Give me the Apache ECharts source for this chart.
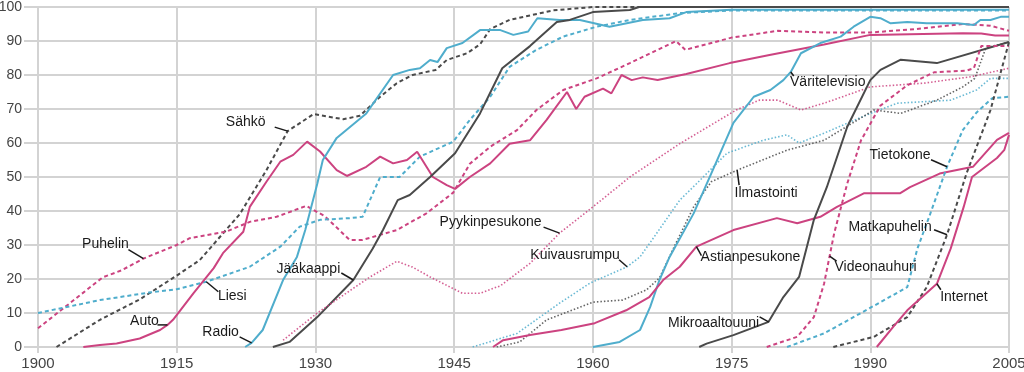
<!DOCTYPE html>
<html><head><meta charset="utf-8">
<script src="https://cdn.jsdelivr.net/npm/echarts@6/dist/echarts.min.js"></script>
<style>html,body{margin:0;padding:0;background:#fff}#c{width:1024px;height:372px}</style>
</head><body><div id="c"></div>
<script>
// [year, percent of households]
const sahko = [[1902,0],[1906.7,8],[1911,14],[1915,21],[1917.5,25.6],[1921.8,39],[1924.7,52],[1927,63.5],[1929.8,68.5],[1933,67],[1934.8,68],[1937,73.6],[1938.8,77.6],[1940.5,80],[1943,81.5],[1944.2,84.4],[1946.4,86.4],[1947.8,89],[1948.9,93.5],[1951,96.2],[1955.7,99],[1960,100],[2005,100]];
const puhelin = [[1900,5.5],[1903.5,13],[1907,20.5],[1909,22.5],[1911.4,26],[1915,30],[1916.4,32],[1920.4,34],[1922.9,36.8],[1925.8,38.3],[1929,41.5],[1931,38.5],[1933.7,31.5],[1935.1,31.5],[1938.8,34.4],[1942,39.3],[1944.9,45.4],[1946.7,53.9],[1948.9,58.9],[1951.8,63.8],[1953.9,69.7],[1956.8,75.6],[1960.4,79],[1964,83.5],[1969,90],[1970,87.4],[1975,91],[1980,93],[1985,92.5],[1990,92.5],[1995,93.5],[2000,95],[2003,94.5],[2005,93]];
const liesi = [[1900,10],[1906.7,13.8],[1912,16],[1915,17],[1918.2,19.2],[1922.9,23.6],[1926.2,29.5],[1928.3,35.4],[1930.5,37.4],[1933.7,37.9],[1935.1,38.3],[1937,50],[1939.1,50],[1941.3,56],[1944.9,60.4],[1946.7,66.8],[1948.9,73.6],[1951,82.4],[1953.9,87.4],[1956.8,91.3],[1960.4,94.2],[1964,96.2],[1969.4,98.2],[1975,99],[2005,99]];
const auto = [[1904.9,0],[1906.7,0.6],[1908.5,1],[1911,2.5],[1913.2,5],[1914,6.5],[1914.6,8],[1916.8,15.8],[1919,23.2],[1920,27.6],[1922.2,33.9],[1922.9,41.2],[1924.7,48.6],[1926.2,54.5],[1927.6,56.5],[1929.1,60.4],[1930.5,57.5],[1932.3,52],[1933.4,50.3],[1935.5,53],[1937,56],[1938.4,54],[1939.9,55],[1941,57.4],[1942.7,50],[1944.2,47.6],[1945.1,46.5],[1946.7,50],[1948.9,54],[1951,59.8],[1953.2,60.8],[1955,66.8],[1957.2,75],[1958.2,70],[1959.1,73.6],[1961.1,76],[1962,74.6],[1963.1,80],[1964.2,78.5],[1965.4,79.3],[1967,78.5],[1970.1,80.3],[1974.8,83.5],[1979.1,85.9],[1985,89],[1990,91.8],[2000,92.3],[2002,92.2],[2003.5,91.6],[2005,91.6]];
const radio = [[1922.4,0],[1923.1,1.2],[1924.3,5],[1926.5,19.7],[1928,26.5],[1928.9,34.4],[1930.2,48],[1930.8,55],[1932.3,61.5],[1935.5,68.7],[1938.4,80],[1940.2,81.5],[1941.3,82],[1942.4,84.4],[1943.2,83.8],[1944.2,87.9],[1945.9,89.4],[1947.8,93.2],[1950,93.2],[1951.4,91.8],[1953,92.8],[1954,96.7],[1956.4,96.2],[1958.6,96.2],[1961.8,94.2],[1965.4,96.2],[1968.3,96.7],[1970.1,98.5],[1975,99.2],[2005,99.2]];
const jaakaappi = [[1925.4,0],[1927.2,1.5],[1930.2,8.8],[1934.1,19.7],[1936.2,29],[1937.3,34.4],[1938.9,43.2],[1940.2,44.7],[1942.4,50],[1945.1,57],[1947.8,68.7],[1950.2,82],[1953.2,88.5],[1956.1,95.6],[1957.5,96.2],[1960,98.5],[1964,99.1],[1965,100],[2005,100]];
const pyykinpesukone = [[1926.5,2],[1930.2,10],[1935.9,20.6],[1938.8,25.2],[1940.5,23.5],[1942.4,20.6],[1945.9,15.8],[1947.8,15.8],[1950,18],[1953.2,24.6],[1956.4,33.5],[1960,41.2],[1964,50],[1969.4,59.8],[1975.5,69.7],[1978,72.6],[1980,72.6],[1982.5,69.7],[1985,71.7],[1990,76.5],[1995.8,77.6],[2000.9,79.5],[2005,82]];
const kuivausrumpu = [[1947,0],[1951.8,4],[1956.4,12.9],[1959.7,18.8],[1963.7,23.6],[1965.1,26.5],[1966.4,31.5],[1969.4,43.2],[1971.2,48],[1974.5,57],[1978.4,60.8],[1981,62.4],[1982.3,60],[1985,62.9],[1990,68.7],[1992.9,71.7],[1998.7,72.6],[2001.5,75.6],[2003,79],[2005,79]];
const ilmastointi = [[1949.6,0],[1952.1,1.5],[1955,8],[1960,13.2],[1963.2,13.8],[1965.8,16.8],[1967.2,20.3],[1968.8,29.5],[1970.9,41.2],[1972.8,48.6],[1975.6,52],[1981,57.9],[1985,60.8],[1990.4,69.7],[1993.3,68.7],[1997.2,72.6],[2000,76.5],[2001.3,79],[2002.5,88],[2005,89.7]];
const varitelevisio = [[1960,0],[1962.9,1.5],[1965.1,5],[1966.2,11.8],[1967.2,19.7],[1968.3,26.5],[1970.9,39.3],[1972.8,51],[1975.2,65.9],[1977.4,73.6],[1979.2,75.6],[1980.6,78.5],[1981.4,80.9],[1982.5,86.4],[1984.6,89.4],[1986.8,91.3],[1988.2,94.2],[1990,97.1],[1991.1,96.7],[1992.2,95.2],[1994,95.6],[1996.1,95.2],[1999.4,95.2],[2001.2,94.7],[2001.9,96.2],[2003,96.2],[2004.1,97.1],[2005,97.1]];
const astianpesukone = [[1949.2,0],[1950.3,2],[1953.2,3.5],[1956.6,5],[1960.2,7],[1963.6,10.8],[1966.1,14.7],[1967.6,19.7],[1969.4,23.6],[1971.2,29.5],[1975.2,34.4],[1979.9,37.9],[1982.1,36.4],[1984.6,38.3],[1986.4,41.2],[1989.3,45.2],[1993.2,45.2],[1994.3,47],[1997.5,51],[2001.1,53],[2003.7,60.9],[2005,63]];
const mikroaaltouuni = [[1971.5,0],[1972.3,1],[1975.2,3.5],[1979,7.4],[1980.6,14.7],[1982.3,20.6],[1983.9,37.4],[1985.3,47],[1987.5,64.7],[1990,78.5],[1991.1,81.5],[1993.3,84.5],[1997.2,83.5],[2005,89.7]];
const videonauhuri = [[1978.8,0],[1982.1,3],[1983.9,8.8],[1985,18.6],[1985.6,26.7],[1986.1,33.5],[1987.5,48],[1989,60.8],[1991.1,71],[1994,77],[1996.9,80.8],[2000.4,81.3],[2001.2,82],[2002,88.5],[2005,88.5]];
const tietokone = [[1981,0],[1985,4],[1989,10],[1994,17.6],[1995.1,29],[1996.5,39.3],[1998.3,53],[2000,63.8],[2001.5,69],[2003.2,73.2],[2005,73.6]];
const matkapuhelin = [[1986,0],[1990.4,3],[1994,8.8],[1996.1,17.6],[1998.3,33],[2000.4,51],[2002.6,66.8],[2003,69.7],[2005,89.7]];
const internet = [[1990.7,0],[1992.5,6],[1994,10.8],[1997.2,18.6],[1998.7,29],[2000.1,41.2],[2001,50],[2003.7,55.6],[2004.5,58],[2005,62.4]];

const yearTicks = [1900, 1915, 1930, 1945, 1960, 1975, 1990, 2005];
const yTicks = [0,10,20,30,40,50,60,70,80,90,100];

const BASE = 1900;
const PINK = '#cc4380', BLUE = '#4fadcc', DARK = '#4a4a4a';
const SOLID = 'solid', DASH = [4,3], DOT = [1.5,2];
const FONT = 'Liberation Sans, Arial, sans-serif';

// name, data, colour, line type, year of the point the label points to
const seriesDefs = [
  ['Sähkö', sahko, DARK, DASH, 1927],
  ['Puhelin', puhelin, PINK, DASH, 1911.4],
  ['Liesi', liesi, BLUE, DASH, 1918.2],
  ['Auto', auto, PINK, SOLID, 1914],
  ['Radio', radio, BLUE, SOLID, 1923.1],
  ['Jääkaappi', jaakaappi, DARK, SOLID, 1934.1],
  ['Pyykinpesukone', pyykinpesukone, PINK, DOT, 1956.4],
  ['Kuivausrumpu', kuivausrumpu, BLUE, DOT, 1963.7],
  ['Ilmastointi', ilmastointi, DARK, DOT, 1975.6],
  ['Väritelevisio', varitelevisio, BLUE, SOLID, 1981.4],
  ['Astianpesukone', astianpesukone, PINK, SOLID, 1971.2],
  ['Mikroaaltouuni', mikroaaltouuni, DARK, SOLID, 1979],
  ['Videonauhuri', videonauhuri, PINK, DASH, 1985.6],
  ['Tietokone', tietokone, BLUE, DASH, 1998.3],
  ['Matkapuhelin', matkapuhelin, DARK, DASH, 1998.3],
  ['Internet', internet, PINK, SOLID, 1997.2]
];
// pixel offsets from the anchor point: text centre and leader-line end
const labelLayout = {
  'Sähkö': {t:[-42,-9], l:[-13,-4]},
  'Puhelin': {t:[-38,-14], l:[-15,-9]},
  'Liesi': {t:[26,14], l:[12,10]},
  'Auto': {t:[-23,-4], l:[-10,0]},
  'Radio': {t:[-31,-11], l:[-12,-6]},
  'Jääkaappi': {t:[-45,-11], l:[-12,-7]},
  'Pyykinpesukone': {t:[-69,-11], l:[-16,-6]},
  'Kuivausrumpu': {t:[-52,-12], l:[-8,-7]},
  'Ilmastointi': {t:[29,23], l:[2,15]},
  'Väritelevisio': {t:[37,10], l:[3,4]},
  'Astianpesukone': {t:[54,10], l:[5,9]},
  'Mikroaaltouuni': {t:[-55,1], l:[-9,-5]},
  'Videonauhuri': {t:[46,11], l:[7,5]},
  'Tietokone': {t:[-47,-12], l:[-16,-7]},
  'Matkapuhelin': {t:[-57,-8], l:[-13,-5]},
  'Internet': {t:[27,13], l:[4,6]}
};

const toXY = arr => arr.map(p => [p[0] - BASE, p[1]]);
const series = seriesDefs.map(([name, data, color, type]) => ({
  name, type: 'line', data: toXY(data), showSymbol: false, silent: true,
  lineStyle: { color, width: type === DOT ? 1.6 : 2, type, opacity: type === DOT ? 0.85 : 1 },
  itemStyle: { color }, z: 2
}));

const annoNames = seriesDefs.map(d => d[0]);
const annoData = seriesDefs.map(([name, data, , , yr]) => {
  const p = data.find(q => q[0] === yr);
  return [p[0] - BASE, p[1]];
});
series.push({
  type: 'custom', name: 'labels', data: annoData, silent: true, z: 10,
  renderItem: (params, api) => {
    const p = api.coord([api.value(0), api.value(1)]);
    const name = annoNames[params.dataIndex];
    const L = labelLayout[name];
    return { type: 'group', children: [
      { type: 'line', shape: { x1: p[0], y1: p[1], x2: p[0] + L.l[0], y2: p[1] + L.l[1] },
        style: { stroke: '#1a1a1a', lineWidth: 1.5 } },
      { type: 'text', x: p[0] + L.t[0], y: p[1] + L.t[1],
        style: { text: name, fill: '#1a1a1a', font: '14px ' + FONT, align: 'center', verticalAlign: 'middle' } }
    ]};
  }
});

const chart = echarts.init(document.getElementById('c'), null, { renderer: 'canvas' });
chart.setOption({
  animation: false,
  backgroundColor: '#fff',
  grid: { left: 38, right: 15, top: 7, bottom: 25, outerBoundsMode: 'none' },
  xAxis: {
    type: 'value', min: yearTicks[0] - BASE, max: yearTicks[yearTicks.length-1] - BASE, interval: 15,
    axisLine: { show: false },
    axisTick: { show: true, length: 6, lineStyle: { color: '#d3d3d3', width: 2 } },
    splitLine: { show: true, lineStyle: { color: '#d3d3d3', width: 2 } },
    axisLabel: { formatter: v => String(v + BASE), fontSize: 15, color: '#444', margin: 9, fontFamily: FONT }
  },
  yAxis: {
    type: 'value', min: yTicks[0], max: yTicks[yTicks.length-1], interval: 10,
    axisLine: { show: false },
    axisTick: { show: true, length: 14, lineStyle: { color: '#d3d3d3', width: 2 } },
    splitLine: { show: true, lineStyle: { color: '#d3d3d3', width: 2 } },
    axisLabel: { fontSize: 14, color: '#444', margin: 16, fontFamily: FONT }
  },
  series
});
</script></body></html>
